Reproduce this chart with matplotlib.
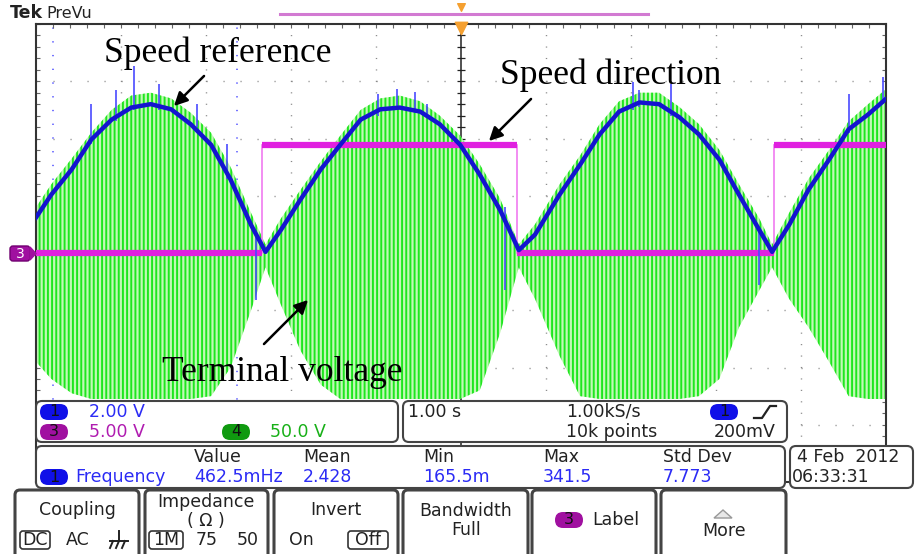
import matplotlib
matplotlib.use("Agg")
import matplotlib.pyplot as plt
from matplotlib.patches import FancyBboxPatch, Polygon
import numpy as np

plt.rcParams['hatch.linewidth'] = 1.4
plt.rcParams['hatch.color'] = '#1ee61e'

# time axis in seconds (1 s/div), values in divisions
speed_t = [-5.0, -4.82, -4.58, -4.35, -4.11, -3.88, -3.65, -3.41, -3.18, -2.94,
           -2.71, -2.47, -2.30, -2.12, -1.89, -1.65, -1.42, -1.18, -0.95, -0.72,
           -0.48, -0.25, -0.01, 0.22, 0.46, 0.68, 0.87, 1.16, 1.40, 1.63,
           1.86, 2.10, 2.33, 2.57, 2.80, 3.04, 3.27, 3.51, 3.66, 3.86,
           4.09, 4.33, 4.56, 4.79, 4.99]
speed_v = [0.62, 1.02, 1.46, 1.98, 2.33, 2.54, 2.60, 2.51, 2.25, 1.89,
           1.28, 0.49, 0.02, 0.40, 0.93, 1.46, 1.89, 2.33, 2.51, 2.54,
           2.47, 2.25, 1.89, 1.37, 0.75, 0.05, 0.32, 1.02, 1.54, 2.07,
           2.47, 2.63, 2.60, 2.37, 2.07, 1.63, 1.02, 0.40, 0.02, 0.49,
           1.11, 1.63, 2.16, 2.42, 2.68]

# terminal voltage envelope (upper / lower), same time points
volt_up = [0.8, 1.2, 1.65, 2.1, 2.5, 2.75, 2.8, 2.7, 2.45, 2.1,
           1.5, 0.7, 0.15, 0.6, 1.1, 1.6, 2.05, 2.5, 2.7, 2.75,
           2.65, 2.4, 2.05, 1.55, 0.95, 0.15, 0.5, 1.2, 1.7, 2.25,
           2.65, 2.8, 2.8, 2.55, 2.25, 1.8, 1.2, 0.6, 0.15, 0.7,
           1.3, 1.8, 2.3, 2.6, 2.85]
volt_lo = [-1.9, -2.2, -2.45, -2.55, -2.55, -2.55, -2.55, -2.55, -2.55, -2.5,
           -2.0, -1.0, -0.25, -0.9, -1.7, -2.3, -2.55, -2.55, -2.55, -2.55,
           -2.55, -2.55, -2.55, -2.4, -1.4, -0.25, -0.8, -1.8, -2.5, -2.55,
           -2.55, -2.55, -2.55, -2.55, -2.5, -2.2, -1.3, -0.65, -0.25, -0.8,
           -1.3, -1.9, -2.5, -2.55, -2.55]

# spikes on the speed trace
spike_t = [-4.35, -4.06, -3.85, -3.55, -3.1, -2.75, -2.41, -0.98, -0.75, -0.54,
           -0.4, 0.52, 2.02, 2.10, 2.47, 3.51, 4.56, 4.97]
spike_lo = [1.9, 2.3, 2.5, 2.5, 2.2, 1.3, 0.3, 2.4, 2.5, 2.45,
            2.4, 0.8, 2.5, 2.55, 2.4, 0.4, 2.1, 2.6]
spike_hi = [2.6, 2.85, 3.26, 2.95, 2.6, 1.9, -0.82, 2.77, 2.86, 2.82,
            2.6, -0.65, 2.98, 2.85, 2.95, -0.56, 2.77, 3.07]

# speed direction (channel 3)
dir_edges = [-5.0, -2.34, 0.66, 3.68, 5.0]
dir_level = [0.0, 1.88, 0.0, 1.88]

cursor_t = [-4.80, -2.64]

W, H = 917, 554
fig = plt.figure(figsize=(W / 100, H / 100), dpi=100)
fig.patch.set_facecolor('white')

ax = fig.add_axes([36 / W, 1 - 482 / H, 850 / W, 458 / H])
ax.set_xlim(-5, 5)
ax.set_ylim(-4, 4)
ax.set_xticks(np.arange(-5, 5.01, 0.2))
ax.set_yticks(np.arange(-4, 4.01, 0.2))
ax.tick_params(direction='in', length=3, width=0.8, color='#666', top=True, right=True,
               labelbottom=False, labelleft=False)
for s in ax.spines.values():
    s.set_color('#333')
    s.set_linewidth(1.5)

# dotted graticule
for gx in range(-4, 5):
    if gx != 0:
        ax.axvline(gx, color='#888', lw=1, ls=(0, (0.8, 7.44)), zorder=1)
for gy in range(-3, 4):
    if gy != 0:
        ax.axhline(gy, color='#888', lw=1, ls=(0, (0.8, 11.44)), zorder=1)
for ct in cursor_t:
    ax.axvline(ct, color='#5a5aff', lw=1.2, ls=(0, (0.8, 7.44)), zorder=1)

# center cross with minor ticks
ax.axhline(0, color='#222', lw=1.1, zorder=1)
ax.axvline(0, color='#222', lw=1.1, zorder=1)
ax.hlines(np.arange(-4, 4.01, 0.2), -0.05, 0.05, color='#222', lw=0.9, zorder=1)
ax.vlines(np.arange(-5, 5.01, 0.2), -0.07, 0.07, color='#222', lw=0.9, zorder=1)

# terminal voltage
ax.fill_between(speed_t, volt_lo, volt_up, facecolor='#c2f9b6', edgecolor='#1ee61e',
                hatch='||||', linewidth=0, zorder=2)

# speed direction
ax.stairs(dir_level, dir_edges, baseline=None, color='#f07af0', lw=1.2, zorder=3)
ax.hlines(dir_level, dir_edges[:-1], dir_edges[1:], color='#e020e0', lw=4.5, zorder=3)

# speed reference
ax.vlines(spike_t, spike_lo, spike_hi, color='#4a4aff', lw=1.2, zorder=4)
ax.plot(speed_t, speed_v, color='#1414d0', lw=3.2, zorder=5)

# overlay in pixel coordinates
ov = fig.add_axes([0, 0, 1, 1], zorder=10)
ov.set_xlim(0, W)
ov.set_ylim(H, 0)
ov.axis('off')
ov.patch.set_alpha(0)

ui = 'DejaVu Sans'
blue = '#2b2bf5'
mag = '#b01cb0'
grn = '#18b018'
fs = 12.5

ov.text(10, 18, 'Tek', fontsize=12.5, fontweight='bold', family=ui, color='#222', va='baseline')
ov.text(46, 18, 'PreVu', fontsize=11.5, family=ui, color='#222', va='baseline')
ov.plot([280, 648], [14, 14], color='#d27ad2', lw=2.2)
ov.scatter([461], [7], marker='v', s=30, color='#f5a030')
ov.scatter([461], [28], marker='v', s=80, color='#f5a030')

# ch3 marker
ov.add_patch(FancyBboxPatch((10, 246), 20, 15, boxstyle='round,pad=0,rounding_size=3',
                            facecolor='#a010a0', edgecolor='#700070', lw=1))
ov.add_patch(Polygon([[30, 247], [36, 253.5], [30, 260]], closed=True, color='#a010a0'))
ov.text(20, 254, '3', fontsize=10, color='white', family=ui, ha='center', va='center')

# annotations
serif = 'Liberation Serif'
ov.text(104, 62, 'Speed reference', fontsize=25.5, family=serif, va='baseline')
ov.text(500, 84, 'Speed direction', fontsize=25.5, family=serif, va='baseline')
ov.text(162, 381, 'Terminal voltage', fontsize=25.5, family=serif, va='baseline')
arr = dict(arrowstyle='-|>', color='black', lw=1.8, mutation_scale=20)
ov.annotate('', xy=(172, 108), xytext=(206, 74), arrowprops=arr)
ov.annotate('', xy=(487, 143), xytext=(533, 97), arrowprops=arr)
ov.annotate('', xy=(310, 298), xytext=(262, 346), arrowprops=arr)


def box(x0, y0, x1, y1, lw=1.5, r=6):
    ov.add_patch(FancyBboxPatch((x0, y0), x1 - x0, y1 - y0,
                                boxstyle='round,pad=0,rounding_size=%d' % r,
                                facecolor='white', edgecolor='#444', lw=lw))


def pill(cx, cy, label, color):
    ov.add_patch(FancyBboxPatch((cx - 14, cy - 8), 28, 16,
                                boxstyle='round,pad=0,rounding_size=8',
                                facecolor=color, edgecolor='none'))
    ov.text(cx, cy, label, fontsize=11.5, family=ui, ha='center', va='center', color='#111')


def txt(x, y, s, color='#222', ha='left', size=fs):
    ov.text(x, y, s, fontsize=size, family=ui, color=color, ha=ha, va='center')


def framed(cx, cy, s, w):
    ov.add_patch(FancyBboxPatch((cx - w / 2, cy - 9), w, 18,
                                boxstyle='round,pad=0,rounding_size=3',
                                facecolor='white', edgecolor='#333', lw=1.2))
    txt(cx, cy, s, ha='center')


# info panel
box(36, 401, 398, 442)
pill(54, 412, '1', '#1010e8')
txt(89, 412, '2.00 V', blue)
pill(54, 432, '3', '#a010a0')
txt(89, 432, '5.00 V', mag)
pill(236, 432, '4', '#109a10')
txt(270, 432, '50.0 V', grn)

box(403, 401, 787, 442)
txt(408, 412, '1.00 s')
txt(566, 412, '1.00kS/s')
txt(566, 432, '10k points')
pill(724, 412, '1', '#1010e8')
ov.plot([754, 762, 766, 770, 776], [418, 418, 412, 406, 406], color='#222', lw=1.6)
txt(776, 432, '200mV', ha='right')

box(36, 446, 785, 488)
for x, h, v in [(194, 'Value', '462.5mHz'), (303, 'Mean', '2.428'), (423, 'Min', '165.5m'),
                (543, 'Max', '341.5'), (663, 'Std Dev', '7.773')]:
    txt(x, 457, h)
    txt(x, 477, v, blue)
pill(54, 477, '1', '#1010e8')
txt(75, 477, 'Frequency', blue)

box(790, 446, 913, 488)
txt(797, 457, '4 Feb  2012')
txt(792, 477, '06:33:31')

# buttons
for x0, x1 in [(15, 139), (145, 268), (274, 398), (403, 528), (532, 656), (661, 786)]:
    box(x0, 490, x1, 562, lw=2.2, r=5)
txt(77, 510, 'Coupling', ha='center')
framed(35, 540, 'DC', 30)
txt(78, 540, 'AC', ha='center')
ov.plot([119, 119], [531, 541], color='#222', lw=1.4)
ov.plot([110, 128], [541, 541], color='#222', lw=1.4)
for gx in (113, 119, 125):
    ov.plot([gx, gx - 3], [541, 548], color='#222', lw=1.4)
txt(206, 502, 'Impedance', ha='center')
txt(206, 521, '( Ω )', ha='center')
framed(166, 540, '1M', 34)
txt(207, 540, '75', ha='center')
txt(248, 540, '50', ha='center')
txt(336, 510, 'Invert', ha='center')
txt(301, 540, 'On', ha='center')
framed(368, 540, 'Off', 40)
txt(466, 511, 'Bandwidth', ha='center')
txt(466, 530, 'Full', ha='center')
pill(569, 520, '3', '#a010a0')
txt(592, 520, 'Label')
ov.add_patch(Polygon([[714, 518], [723, 510], [732, 518]], closed=True,
                     facecolor='#e8e8e8', edgecolor='#999', lw=1))
txt(724, 531, 'More', ha='center')

fig.savefig('out.png', dpi=100, facecolor='white')
